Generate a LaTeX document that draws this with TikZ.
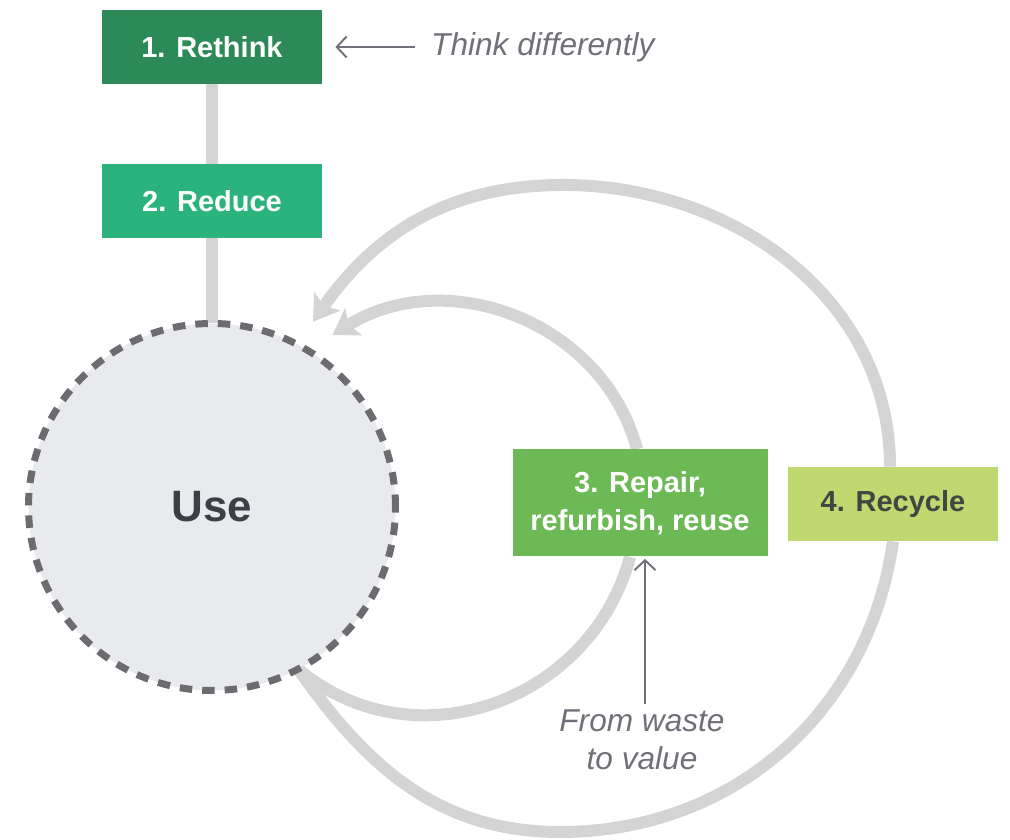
\documentclass[tikz,border=0pt]{standalone}
\usepackage{fontspec}
\setmainfont{Liberation Sans}
\usetikzlibrary{arrows.meta,backgrounds,calc}

\definecolor{rethinkgreen}{RGB}{43,138,88}
\definecolor{reducegreen}{RGB}{42,179,124}
\definecolor{repairgreen}{RGB}{108,185,85}
\definecolor{recyclegreen}{RGB}{192,216,112}
\definecolor{recycletext}{RGB}{66,70,66}
\definecolor{usefill}{RGB}{233,234,238}
\definecolor{usedash}{RGB}{108,108,112}
\definecolor{usetext}{RGB}{60,64,70}
\definecolor{loopgray}{RGB}{212,212,212}
\definecolor{notegray}{RGB}{112,112,120}

\tikzset{
    stage/.style={rectangle, inner sep=0pt, minimum height=1.48cm,
        font=\fontsize{16.5}{21.6}\selectfont\bfseries, text=white, align=center},
    loop/.style={draw=loopgray, line width=0.24cm},
    loophead/.style={-{Stealth[length=0.5cm,width=0.64cm,inset=0.12cm]}},
    note/.style={font=\fontsize{18}{21.6}\selectfont\itshape, text=notegray, align=center},
    pointer/.style={draw=notegray, line width=1.1pt, -{Straight Barb[length=0.2cm,width=0.42cm]}}
}

\begin{document}
\begin{tikzpicture}
    \useasboundingbox (0,0) rectangle (20.2,16.8);

    % Stages
    \node[stage, fill=rethinkgreen, minimum width=4.4cm] (rethink) at (4.24,15.86) {1. Rethink};
    \node[stage, fill=reducegreen, minimum width=4.4cm] (reduce) at (4.24,12.78) {2. Reduce};
    \node[circle, fill=usefill, draw=usedash, line width=0.14cm, dash pattern=on 0.25cm off 0.2cm,
        minimum size=7.34cm, inner sep=0pt, outer sep=0pt, text=usetext,
        font=\fontsize{25}{30}\selectfont\bfseries] (use) at (4.24,6.66) {Use};
    \node[stage, fill=repairgreen, minimum width=5.1cm, minimum height=2.14cm] (repair) at (12.8,6.74) {3. Repair,\\refurbish, reuse};
    \node[stage, fill=recyclegreen, text=recycletext, minimum width=4.2cm] (recycle) at (17.86,6.72) {4. Recycle};

    % Notes
    \node[note, anchor=west] (think) at (8.5,15.86) {Think differently};
    \node[note] (waste) at (12.84,2.0) {From waste\\to value};

    % Define points
    \coordinate (tipin) at ($(use)+(55:4.2)$);
    \coordinate (tipout) at ($(use)+(61.4:4.22)$);
    \coordinate (top) at (11.26,13.1);
    \coordinate (low) at (11.2,0.16);

    % Draw loops
    \begin{scope}[on background layer]
        \draw[loop] (rethink) -- (reduce);
        \draw[loop] (reduce) -- (use);
        \draw[loop] (use.-62) to[out=-40,in=-105,looseness=1.1] ([xshift=-0.2cm]repair.south);
        \draw[loop,loophead] ([xshift=-0.06cm]repair.north) to[out=105,in=32,looseness=1.05] (tipin);
        \draw[loop] (use.-62) to[out=-55,in=180] (low) to[out=0,in=-98] (recycle.south);
        \draw[loop,loophead] ([xshift=-0.06cm]recycle.north) to[out=90,in=0] (top) to[out=180,in=55] (tipout);
    \end{scope}

    % Pointers
    \draw[pointer, shorten <=0.2cm, shorten >=0.26cm] (think.west) -- (rethink.east);
    \draw[pointer, shorten >=0.04cm] ([xshift=0.06cm]waste.north) -- ([xshift=0.06cm]waste.north |- repair.south);

\end{tikzpicture}
\end{document}
